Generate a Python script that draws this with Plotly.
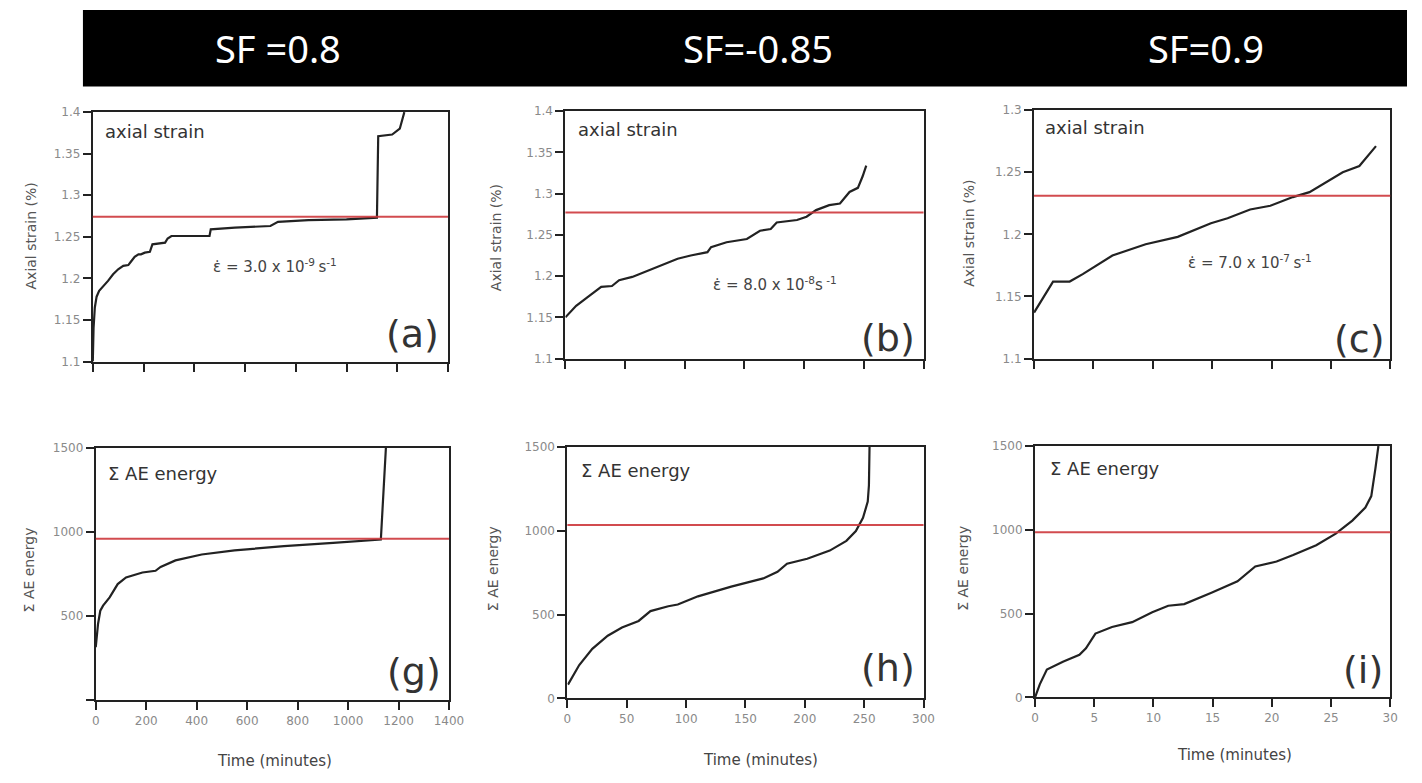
import plotly.graph_objects as go

W, H = 1422, 783

# ---------------- data ----------------
banner_labels = ["SF =0.8", "SF=-0.85", "SF=0.9"]

# (a) axial strain, SF=0.8, time in minutes
t_a = [0, 3, 8, 15, 25, 40, 60, 80, 100, 120, 140, 150, 165, 180, 190, 205, 225, 235,
       260, 285, 295, 310, 460, 465, 560, 700, 730, 850, 1000, 1120, 1125, 1180, 1210, 1220, 1228]
strain_a = [1.10, 1.14, 1.165, 1.178, 1.185, 1.19, 1.197, 1.205, 1.211, 1.215, 1.216, 1.22,
            1.226, 1.229, 1.229, 1.231, 1.232, 1.241, 1.242, 1.243, 1.248, 1.251, 1.251, 1.259,
            1.261, 1.263, 1.268, 1.27, 1.271, 1.273, 1.371, 1.373, 1.38, 1.39, 1.40]

# (b) axial strain, SF=-0.85
t_b = [0, 9, 20, 30, 39, 45, 56, 63, 72, 83, 94, 105, 119, 122, 135, 152, 163, 172, 177,
       194, 202, 210, 221, 230, 238, 245, 249, 252]
strain_b = [1.150, 1.164, 1.176, 1.187, 1.188, 1.195, 1.199, 1.203, 1.209, 1.215, 1.221, 1.225,
            1.229, 1.235, 1.241, 1.245, 1.255, 1.257, 1.265, 1.268, 1.272, 1.280, 1.286, 1.288,
            1.302, 1.307, 1.321, 1.334]

# (c) axial strain, SF=0.9
t_c = [0, 1.6, 3.0, 4.1, 6.6, 9.4, 12.1, 14.9, 16.3, 18.2, 19.9, 21.8, 23.2, 24.6, 26.0, 27.4, 28.8]
strain_c = [1.137, 1.162, 1.162, 1.168, 1.183, 1.192, 1.198, 1.209, 1.213, 1.220, 1.223, 1.230,
            1.234, 1.242, 1.250, 1.255, 1.271]

# (g) cumulative AE energy, SF=0.8
t_g = [0, 9, 18, 29, 55, 87, 120, 185, 237, 257, 316, 420, 550, 746, 941, 1130, 1150]
ae_g = [316, 454, 533, 563, 612, 691, 731, 760, 770, 793, 832, 867, 891, 917, 936, 956, 1500]

# (h) cumulative AE energy, SF=-0.85
t_h = [0.5, 10, 21, 34, 46, 60, 70, 85, 93, 110, 138, 165, 177, 185, 202, 221, 235, 243,
       249, 253, 254, 254.5]
ae_h = [82, 199, 296, 374, 423, 462, 521, 550, 560, 609, 667, 716, 755, 804, 833, 882, 940,
        999, 1077, 1174, 1272, 1500]

# (i) cumulative AE energy, SF=0.9
t_i = [0, 0.4, 1.0, 2.4, 3.75, 4.3, 5.1, 6.5, 8.2, 9.9, 11.25, 12.6, 14.9, 17.1, 18.6, 20.4,
       21.8, 23.75, 25.4, 26.8, 27.9, 28.4, 28.75, 29.0]
ae_i = [0, 78, 166, 215, 254, 293, 381, 420, 449, 508, 547, 557, 625, 693, 781, 811, 850, 908,
        977, 1055, 1133, 1201, 1367, 1500]

# red reference levels
ref_strain = [1.274, 1.277, 1.231]
ref_ae = [960, 1035, 985]

# axes ticks
xt_a = [0, 200, 400, 600, 800, 1000, 1200, 1400]
xt_b = [0, 50, 100, 150, 200, 250, 300]
xt_c = [0, 5, 10, 15, 20, 25, 30]
yt_ab = [1.1, 1.15, 1.2, 1.25, 1.3, 1.35, 1.4]
yt_ab_lbl = ["1.1", "1.15", "1.2", "1.25", "1.3", "1.35", "1.4"]
yt_c = [1.1, 1.15, 1.2, 1.25, 1.3]
yt_c_lbl = ["1.1", "1.15", "1.2", "1.25", "1.3"]
yt_g = [500, 1000, 1500]          # labelled ticks of (g); 0 has an unlabelled tick
yt_g_lbl = ["500", "1000", "1500"]
yt_g_unlabelled = [0]
yt_hi = [0, 500, 1000, 1500]
yt_hi_lbl = ["0", "500", "1000", "1500"]

rates = ["3.0 x 10<sup>-9 </sup>s<sup>-1</sup>",
         "8.0 x 10<sup>-8</sup>s<sup> -1</sup>",
         "7.0 x 10<sup>-7 </sup>s<sup>-1</sup>"]
letters_top = ["(a)", "(b)", "(c)"]
letters_bot = ["(g)", "(h)", "(i)"]

# ---------------- layout geometry (pixels) ----------------
def px_x(x):
    return x / W

def px_y(y):
    return 1 - y / H

panels = [
    # (left, right, top, bottom) in pixels
    (90, 450, 107, 361),
    (569, 932, 106, 358),
    (1044, 1405, 105, 358),
    (93, 451, 449, 706),
    (571, 932, 448, 704),
    (1045, 1405, 447, 703),
]

LINE = "#222222"
RED = "rgba(205,55,60,0.9)"
TICKFONT = dict(family="DejaVu Sans", size=12, color="#8a8a8a")

fig = go.Figure()

series = [(t_a, strain_a), (t_b, strain_b), (t_c, strain_c),
          (t_g, ae_g), (t_h, ae_h), (t_i, ae_i)]
xranges = [[0, 1400], [0, 300], [0, 30], [0, 1400], [0, 300], [0, 30]]
xticks = [xt_a, xt_b, xt_c, xt_a, xt_b, xt_c]
yranges = [[1.1, 1.4], [1.1, 1.4], [1.1, 1.3], [0, 1500], [0, 1500], [0, 1500]]
yticks = [(yt_ab, yt_ab_lbl), (yt_ab, yt_ab_lbl), (yt_c, yt_c_lbl),
          (yt_g, yt_g_lbl), (yt_hi, yt_hi_lbl), (yt_hi, yt_hi_lbl)]
refs = ref_strain + ref_ae

layout = {}
shapes = []
for k in range(6):
    n = "" if k == 0 else str(k + 1)
    xs, ys = series[k]
    fig.add_trace(go.Scatter(x=xs, y=ys, mode="lines", xaxis="x" + n, yaxis="y" + n,
                             line=dict(color=LINE, width=2.2), showlegend=False,
                             cliponaxis=True))
    l, r, t, b = panels[k]
    layout["xaxis" + n] = dict(
        domain=[px_x(l), px_x(r)], range=xranges[k], anchor="y" + n,
        tickvals=xticks[k], showticklabels=(k >= 3), ticks="outside", ticklen=8,
        tickwidth=2, tickcolor=LINE, showline=True, linewidth=2, linecolor=LINE,
        mirror=True, showgrid=False, zeroline=False, tickfont=TICKFONT,
    )
    ya = dict(
        domain=[px_y(b), px_y(t)], range=yranges[k], anchor="x" + n,
        tickvals=yticks[k][0], ticktext=yticks[k][1], ticks="outside", ticklen=8,
        tickwidth=2, tickcolor=LINE, showline=True, linewidth=2, linecolor=LINE,
        mirror=True, showgrid=False, zeroline=False, tickfont=TICKFONT,
    )
    if k == 3:
        ya["minor"] = dict(tickvals=yt_g_unlabelled, ticks="outside", ticklen=8,
                           tickwidth=2, tickcolor=LINE, showgrid=False)
    layout["yaxis" + n] = ya
    shapes.append(dict(type="line", xref="x" + n + " domain", yref="y" + n,
                       x0=0, x1=1, y0=refs[k], y1=refs[k],
                       line=dict(color=RED, width=2)))

# banner
shapes.insert(0, dict(type="rect", xref="paper", yref="paper", x0=px_x(80), x1=1,
                      y0=px_y(81), y1=px_y(3), fillcolor="black", line=dict(width=0),
                      layer="below"))

ann = []
banner_cx = [278, 764, 1218]
for lbl, cx in zip(banner_labels, banner_cx):
    ann.append(dict(text=lbl, x=px_x(cx), y=px_y(42), xref="paper", yref="paper",
                    showarrow=False, xanchor="center", yanchor="middle",
                    font=dict(family="Noto Sans", size=38, color="white")))

# in-panel labels (pixel positions)
top_name_pos = [(100, 127), (580, 125), (1053, 123)]
bot_name_pos = [(103, 475), (583, 472), (1058, 470)]
top_letter_pos = [(443, 333), (925, 337), (1402, 338)]
bot_letter_pos = [(445, 677), (925, 673), (1400, 675)]
rate_pos = [(210, 264), (717, 282), (1198, 260)]

for (x, y) in top_name_pos:
    ann.append(dict(text="axial strain", x=px_x(x), y=px_y(y), xref="paper", yref="paper",
                    showarrow=False, xanchor="left", yanchor="middle",
                    font=dict(family="DejaVu Sans", size=18, color="#333333")))
for (x, y) in bot_name_pos:
    ann.append(dict(text="Σ AE energy", x=px_x(x), y=px_y(y), xref="paper", yref="paper",
                    showarrow=False, xanchor="left", yanchor="middle",
                    font=dict(family="DejaVu Sans", size=18, color="#333333")))
for lbl, (x, y) in zip(letters_top + letters_bot, top_letter_pos + bot_letter_pos):
    ann.append(dict(text=lbl, x=px_x(x), y=px_y(y), xref="paper", yref="paper",
                    showarrow=False, xanchor="right", yanchor="middle",
                    font=dict(family="DejaVu Sans", size=38, color="#333333")))
for rt, (x, y) in zip(rates, rate_pos):
    ann.append(dict(text="ε\u0307 = " + rt, x=px_x(x), y=px_y(y), xref="paper", yref="paper",
                    showarrow=False, xanchor="left", yanchor="middle",
                    font=dict(family="DejaVu Sans", size=15, color="#444444")))

# axis titles
ytitle_top = [(27, 233), (498, 235), (978, 230)]
ytitle_bot = [(25, 573), (495, 572), (972, 572)]
for (x, y) in ytitle_top:
    ann.append(dict(text="Axial strain (%)", x=px_x(x), y=px_y(y), xref="paper", yref="paper",
                    showarrow=False, textangle=-90, xanchor="center", yanchor="middle",
                    font=dict(family="DejaVu Sans", size=14, color="#555555")))
for (x, y) in ytitle_bot:
    ann.append(dict(text="Σ AE energy", x=px_x(x), y=px_y(y), xref="paper", yref="paper",
                    showarrow=False, textangle=-90, xanchor="center", yanchor="middle",
                    font=dict(family="DejaVu Sans", size=14, color="#555555")))
xtitle_pos = [(274, 768), (767, 767), (1247, 762)]
for (x, y) in xtitle_pos:
    ann.append(dict(text="Time (minutes)", x=px_x(x), y=px_y(y), xref="paper", yref="paper",
                    showarrow=False, xanchor="center", yanchor="middle",
                    font=dict(family="DejaVu Sans", size=15, color="#444444")))

fig.update_layout(
    width=W, height=H, margin=dict(l=0, r=0, t=0, b=0),
    paper_bgcolor="white", plot_bgcolor="white",
    shapes=shapes, annotations=ann, showlegend=False,
    **layout,
)

fig.write_html("out.html")
